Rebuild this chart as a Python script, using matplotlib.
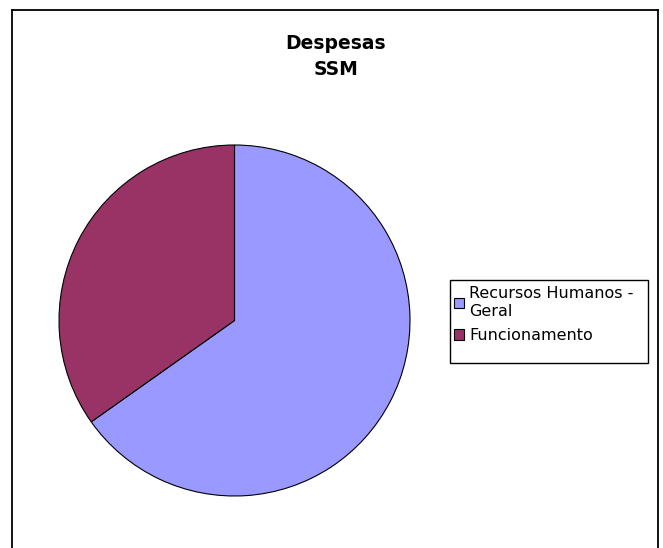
import matplotlib.pyplot as plt
from matplotlib.lines import Line2D
from matplotlib.patches import Rectangle

# data
categories = ["Recursos Humanos -\nGeral", "Funcionamento"]
shares = [65.2, 34.8]
colors = ["#9999FF", "#993366"]
chart_title = "Despesas\nSSM"

W, H = 663, 548
fig = plt.figure(figsize=(W / 100, H / 100), dpi=100)

# outer chart frame (left, top, right edges; bottom is cut off)
for xs, ys in [([12, 12], [548, 10]), ([12, 658], [10, 10]), ([658, 658], [10, 548])]:
    fig.add_artist(Line2D([x / W for x in xs], [1 - y / H for y in ys],
                          color="black", lw=1.3, transform=fig.transFigure))

# pie axes: center (234.5, 320.5), radius 175.5 px
cx, cy, r = 234.5, 320.5, 175.5
ax = fig.add_axes([(cx - r) / W, 1 - (cy + r) / H, 2 * r / W, 2 * r / H])
wedges, _ = ax.pie(shares, colors=colors, startangle=90, counterclock=False,
                   wedgeprops=dict(edgecolor="black", linewidth=0.8))
ax.set_xlim(-1, 1)
ax.set_ylim(-1, 1)
ax.axis("off")

fig.text(336 / W, 1 - 34 / H, chart_title, ha="center", va="top",
         fontsize=13.5, fontweight="bold", linespacing=1.45)

# legend box
fig.add_artist(Rectangle((450 / W, 1 - 363 / H), 198 / W, 83 / H,
                         transform=fig.transFigure, fill=False,
                         edgecolor="black", lw=1.0))
leg = fig.legend(wedges, categories, loc="upper left",
                 bbox_to_anchor=(451 / W, 1 - 283 / H),
                 frameon=False, fontsize=11.5, handlelength=0.6,
                 handleheight=0.6, handletextpad=0.35, borderaxespad=0,
                 borderpad=0.2, labelspacing=0.6)
for h in leg.legend_handles:
    h.set_edgecolor("black")
    h.set_linewidth(0.8)

fig.savefig("out.png", dpi=100)
